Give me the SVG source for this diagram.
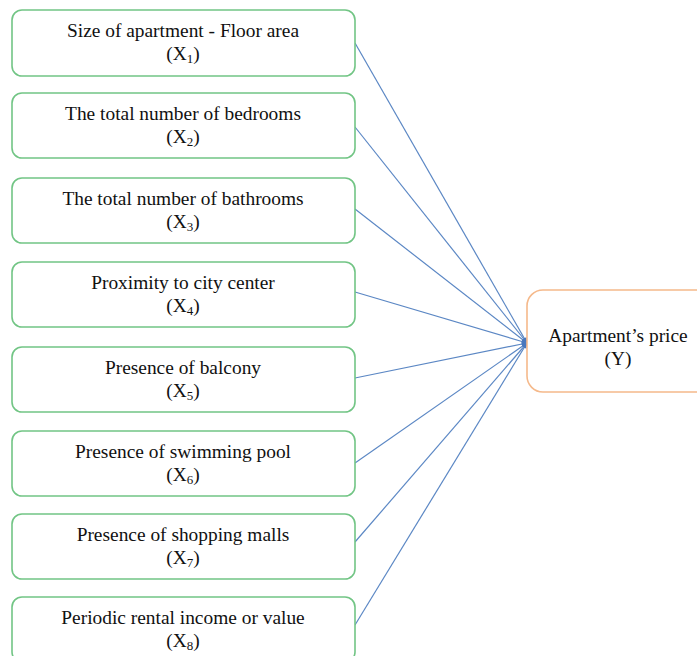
<svg xmlns="http://www.w3.org/2000/svg" width="697" height="656" viewBox="0 0 697 656">
<style>
.box{fill:#fff;stroke:#72c585;stroke-width:1.6}
.out{fill:#fff;stroke:#f5b98b;stroke-width:1.6}
.t{font-family:"Liberation Serif","Times New Roman",serif;font-size:19.4px;fill:#111;text-anchor:middle}
.s{font-size:13px}
.c{stroke:#5b87c4;stroke-width:1.2;fill:none;marker-end:url(#ah)}
</style>
<defs>
<marker id="ah" viewBox="0 0 10 10" refX="9" refY="5" markerWidth="6" markerHeight="6" markerUnits="userSpaceOnUse" orient="auto">
<path d="M0,1 L10,5 L0,9 z" fill="#4a78bd"/>
</marker>
</defs>
<rect width="697" height="656" fill="#fff"/>
<g id="connectors">
<line class="c" x1="355" y1="43" x2="527" y2="343"/>
<line class="c" x1="355" y1="127" x2="527" y2="343"/>
<line class="c" x1="355" y1="209" x2="527" y2="343"/>
<line class="c" x1="355" y1="292" x2="527" y2="343"/>
<line class="c" x1="355" y1="378" x2="527" y2="343"/>
<line class="c" x1="355" y1="463" x2="527" y2="343"/>
<line class="c" x1="355" y1="542" x2="527" y2="343"/>
<line class="c" x1="355" y1="625" x2="527" y2="343"/>
</g>
<g id="x1">
<rect class="box" x="12" y="10" width="343" height="66" rx="10"/>
<text class="t" x="183" y="37">Size of apartment - Floor area</text>
<text class="t" x="183" y="60">(X<tspan class="s" dy="3">1</tspan><tspan dy="-3">)</tspan></text>
</g>
<g id="x2">
<rect class="box" x="12" y="93" width="343" height="65" rx="10"/>
<text class="t" x="183" y="120">The total number of bedrooms</text>
<text class="t" x="183" y="143">(X<tspan class="s" dy="3">2</tspan><tspan dy="-3">)</tspan></text>
</g>
<g id="x3">
<rect class="box" x="12" y="178" width="343" height="65" rx="10"/>
<text class="t" x="183" y="205">The total number of bathrooms</text>
<text class="t" x="183" y="228">(X<tspan class="s" dy="3">3</tspan><tspan dy="-3">)</tspan></text>
</g>
<g id="x4">
<rect class="box" x="12" y="262" width="343" height="65" rx="10"/>
<text class="t" x="183" y="289">Proximity to city center</text>
<text class="t" x="183" y="312">(X<tspan class="s" dy="3">4</tspan><tspan dy="-3">)</tspan></text>
</g>
<g id="x5">
<rect class="box" x="12" y="347" width="343" height="65" rx="10"/>
<text class="t" x="183" y="374">Presence of balcony</text>
<text class="t" x="183" y="397">(X<tspan class="s" dy="3">5</tspan><tspan dy="-3">)</tspan></text>
</g>
<g id="x6">
<rect class="box" x="12" y="431" width="343" height="65" rx="10"/>
<text class="t" x="183" y="458">Presence of swimming pool</text>
<text class="t" x="183" y="481">(X<tspan class="s" dy="3">6</tspan><tspan dy="-3">)</tspan></text>
</g>
<g id="x7">
<rect class="box" x="12" y="514" width="343" height="65" rx="10"/>
<text class="t" x="183" y="541">Presence of shopping malls</text>
<text class="t" x="183" y="564">(X<tspan class="s" dy="3">7</tspan><tspan dy="-3">)</tspan></text>
</g>
<g id="x8">
<rect class="box" x="12" y="597" width="343" height="65" rx="10"/>
<text class="t" x="183" y="624">Periodic rental income or value</text>
<text class="t" x="183" y="647">(X<tspan class="s" dy="3">8</tspan><tspan dy="-3">)</tspan></text>
</g>
<g id="y">
<rect class="out" x="527" y="290" width="190" height="102" rx="16"/>
<text class="t" x="618" y="342">Apartment’s price</text>
<text class="t" x="618" y="365">(Y)</text>
</g>
</svg>
